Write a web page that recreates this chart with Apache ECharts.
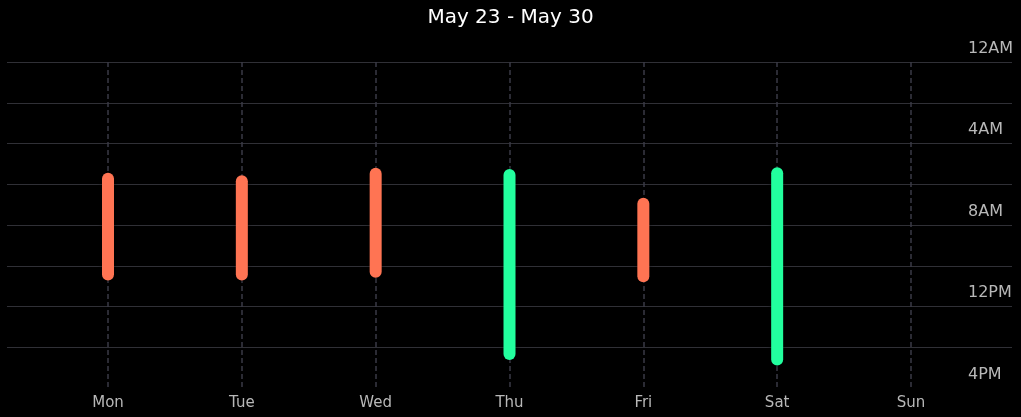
<!DOCTYPE html>
<html>
<head>
<meta charset="utf-8">
<script src="https://cdn.jsdelivr.net/npm/echarts@6/dist/echarts.min.js"></script>
<style>
html,body{margin:0;padding:0;background:#000;}
#c{width:1021px;height:417px;}
</style>
</head>
<body>
<div id="c"></div>
<script>
var days = ['Mon','Tue','Wed','Thu','Fri','Sat','Sun'];
var startHours = [5.43, 5.56, 5.19, 5.25, 6.66, 5.17, null];
var endHours = [10.73, 10.73, 10.59, 14.63, 10.81, 14.89, null];
var longDay = [false, false, false, true, false, true, false];
var yTickLabels = ['12AM','4AM','8AM','12PM','4PM'];
var title = 'May 23 - May 30';

var COLOR_SHORT = '#FF7453';
var COLOR_LONG = '#22FF9E';
var FONT = 'DejaVu Sans';

var baseData = startHours.map(function(s){ return s == null ? '-' : s; });
var spanData = startHours.map(function(s, i){
  if (s == null) return '-';
  return {
    value: endHours[i] - s,
    itemStyle: { color: longDay[i] ? COLOR_LONG : COLOR_SHORT }
  };
});

var chart = echarts.init(document.getElementById('c'));
chart.setOption({
  backgroundColor: '#000000',
  animation: false,
  title: {
    text: title,
    left: 'center',
    top: 3,
    textStyle: { color: '#ffffff', fontSize: 20, fontWeight: 'normal', fontFamily: FONT }
  },
  grid: [
    { left: 108, right: 110, top: 62, bottom: 29 },
    { left: 7, right: 9, top: 62, bottom: 29 }
  ],
  xAxis: [
    {
      type: 'category', gridIndex: 0, data: days, boundaryGap: false,
      axisLine: { show: false }, axisTick: { show: false },
      axisLabel: { color: '#b8b8b8', fontSize: 15, fontFamily: FONT, margin: 8 },
      splitLine: { show: true, lineStyle: { color: '#3a3a46', width: 1.5, type: [5, 3] } }
    },
    { type: 'value', gridIndex: 1, min: 0, max: 1, show: false }
  ],
  yAxis: [
    { type: 'value', gridIndex: 0, min: 0, max: 16, inverse: true, show: false },
    {
      type: 'value', gridIndex: 1, min: 0, max: 16, interval: 2, inverse: true,
      position: 'right',
      axisLine: { show: false }, axisTick: { show: false },
      axisLabel: {
        inside: true, align: 'left', margin: 44, verticalAlign: 'bottom',
        lineHeight: 27,
        color: '#b8b8b8', fontSize: 16, fontFamily: FONT,
        formatter: function(v){ return v % 4 === 0 ? yTickLabels[v / 4] : ''; }
      },
      splitLine: { show: true, showMaxLine: false, lineStyle: { color: '#303036', width: 1 } }
    }
  ],
  series: [
    {
      type: 'bar', xAxisIndex: 0, yAxisIndex: 0, stack: 'r', data: baseData,
      barWidth: 12, clip: false, silent: true,
      itemStyle: { color: 'transparent' }
    },
    {
      type: 'bar', xAxisIndex: 0, yAxisIndex: 0, stack: 'r', data: spanData,
      barWidth: 12, clip: false,
      itemStyle: { borderRadius: 6, shadowColor: 'rgba(0,0,0,0.6)', shadowBlur: 4 }
    }
  ]
});
</script>
</body>
</html>
